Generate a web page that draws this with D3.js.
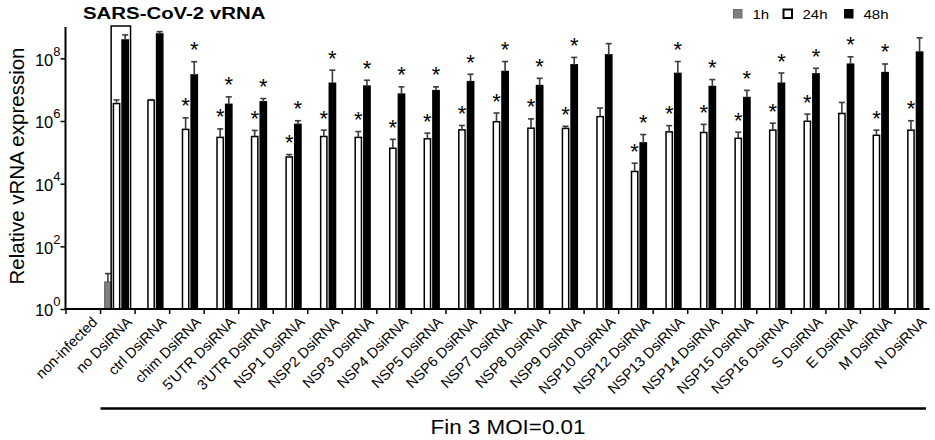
<!DOCTYPE html>
<html>
<head>
<meta charset="utf-8">
<script src="https://cdn.jsdelivr.net/npm/d3@7"></script>
<style>
body { margin: 0; background: #fff; }
text { font-family: "Liberation Sans", Arial, sans-serif; fill: #000; }
</style>
</head>
<body>
<div id="chart"></div>
<script>
var categories = ["non-infected", "no DsiRNA", "ctrl DsiRNA", "chim DsiRNA", "5'UTR DsiRNA", "3'UTR DsiRNA",
    "NSP1 DsiRNA", "NSP2 DsiRNA", "NSP3 DsiRNA", "NSP4 DsiRNA", "NSP5 DsiRNA", "NSP6 DsiRNA", "NSP7 DsiRNA",
    "NSP8 DsiRNA", "NSP9 DsiRNA", "NSP10 DsiRNA", "NSP12 DsiRNA", "NSP13 DsiRNA", "NSP14 DsiRNA",
    "NSP15 DsiRNA", "NSP16 DsiRNA", "S DsiRNA", "E DsiRNA", "M DsiRNA", "N DsiRNA"]
var seriesNames = ["1h", "24h", "48h"]

// mean and mean+SD
var mean1h  = [null, 7.2, null, null, null, null, null, null, null, null, null, null, null,
    null, null, null, null, null, null, null, null, null, null, null, null]
var upper1h = [null, 13.5, null, null, null, null, null, null, null, null, null, null, null,
    null, null, null, null, null, null, null, null, null, null, null, null]
var mean24h  = [null, 3.6e6, 4.6e6, 5.4e5, 3.0e5, 3.2e5, 7.1e4, 3.2e5, 3.0e5, 1.35e5, 2.7e5, 5.2e5, 9.5e5,
    5.9e5, 5.8e5, 1.38e6, 2.45e4, 4.5e5, 4.3e5, 2.8e5, 5.1e5, 9.8e5, 1.74e6, 3.5e5, 5.1e5]
var upper24h = [null, 4.7e6, 4.8e6, 1.26e6, 5.6e5, 5.0e5, 8.5e4, 5.1e5, 4.6e5, 2.6e5, 4.1e5, 7.2e5, 1.8e6,
    1.17e6, 6.8e5, 2.6e6, 4.5e4, 7.1e5, 7.8e5, 4.4e5, 8.5e5, 1.66e6, 3.9e6, 5.1e5, 1.02e6]
var mean48h  = [null, 3.85e8, 6.0e8, 2.95e7, 3.4e6, 4.1e6, 7.8e5, 1.6e7, 1.3e7, 7.2e6, 9.3e6, 1.8e7, 3.8e7,
    1.35e7, 6.2e7, 1.29e8, 2.0e5, 3.3e7, 1.26e7, 5.6e6, 1.6e7, 3.2e7, 6.5e7, 3.5e7, 1.58e8]
var upper48h = [null, 5.6e8, 7.1e8, 7.8e7, 5.9e6, 5.2e6, 1.02e6, 4.2e7, 2.0e7, 1.23e7, 1.23e7, 3.1e7, 7.9e7,
    2.3e7, 1.07e8, 2.95e8, 3.7e5, 7.9e7, 2.1e7, 9.5e6, 3.4e7, 4.8e7, 1.12e8, 6.6e7, 4.5e8]
// significance stars (1 = "*")
var sig1h  = [0, 0, 0, 0, 0, 0, 0, 0, 0, 0, 0, 0, 0, 0, 0, 0, 0, 0, 0, 0, 0, 0, 0, 0, 0]
var sig24h = [0, 0, 0, 1, 1, 1, 1, 1, 1, 1, 1, 1, 1, 1, 1, 0, 1, 1, 1, 1, 1, 1, 0, 1, 1]
var sig48h = [0, 0, 0, 1, 1, 1, 1, 1, 1, 1, 1, 1, 1, 1, 1, 0, 1, 1, 1, 1, 1, 1, 1, 1, 0]
var yTicks = [1, 1e2, 1e4, 1e6, 1e8]
var framedCategory = "no DsiRNA"
var titleText = "SARS-CoV-2 vRNA"
var yTitle = "Relative vRNA expression"
var groupText = "Fin 3 MOI=0.01"

var width = 935
var height = 440

function buildRows() {
    let means = [mean1h, mean24h, mean48h]
    let uppers = [upper1h, upper24h, upper48h]
    let sigs = [sig1h, sig24h, sig48h]
    let rows = []
    categories.map((cat, i) => {
        seriesNames.map((s, j) => {
            if (means[j][i] === null) return
            rows.push({cat: cat, series: s, mean: means[j][i], upper: uppers[j][i], sig: sigs[j][i] === 1})
        })
    })
    return rows
}

function createChart() {
    const rows = buildRows()

    const svg = d3.select("#chart")
        .append("svg")
        .attr("width", width)
        .attr("height", height)
        .attr("viewBox", [0, 0, width, height])

    const x = d3.scaleBand(categories, [66, 929.5]).paddingInner(0).paddingOuter(0)
    const x1 = d3.scaleBand(seriesNames, [3.5, 28.5]).paddingInner(0.1)
    const y = d3.scaleLog([1, 1e9], [309, 27])
    const bw = x1.bandwidth()

    const fills = {"1h": "#808080", "24h": "#fff", "48h": "#000"}
    const strokes = {"1h": "#6e6e6e", "24h": "#000", "48h": "#000"}

    // bars
    svg.append("g")
        .selectAll("rect")
        .data(rows)
        .join("rect")
            .attr("x", d => x(d.cat) + x1(d.series) + 0.75)
            .attr("y", d => y(d.mean))
            .attr("width", bw - 1.5)
            .attr("height", d => y(1) - y(d.mean))
            .attr("fill", d => fills[d.series])
            .attr("stroke", d => strokes[d.series])
            .attr("stroke-width", 1.5)

    // error bars (upper only)
    const err = svg.append("g")
        .attr("stroke", "#3c3c3c")
        .attr("stroke-width", 1.6)
        .selectAll("g")
        .data(rows)
        .join("g")
    err.append("line")
        .attr("x1", d => x(d.cat) + x1(d.series) + bw / 2)
        .attr("x2", d => x(d.cat) + x1(d.series) + bw / 2)
        .attr("y1", d => y(d.mean))
        .attr("y2", d => y(d.upper))
    err.append("line")
        .attr("x1", d => x(d.cat) + x1(d.series) + bw / 2 - 3)
        .attr("x2", d => x(d.cat) + x1(d.series) + bw / 2 + 3)
        .attr("y1", d => y(d.upper))
        .attr("y2", d => y(d.upper))

    // stars
    svg.append("g")
        .selectAll("text")
        .data(rows.filter(d => d.sig))
        .join("text")
            .attr("x", d => x(d.cat) + x1(d.series) + bw / 2)
            .attr("y", d => y(d.upper) - 4.5)
            .attr("text-anchor", "middle")
            .attr("font-size", "22px")
            .text("*")

    // frame around the reference group
    svg.append("rect")
        .attr("x", x(framedCategory) + x1("24h") - 1.5)
        .attr("y", 26)
        .attr("width", x1("48h") + bw - x1("24h") + 3)
        .attr("height", y(1) - 26)
        .attr("fill", "none")
        .attr("stroke", "#000")
        .attr("stroke-width", 1.5)

    // y axis
    const yAxis = d3.axisLeft(y).tickValues(yTicks).tickSize(5).tickPadding(0)
    const yg = svg.append("g")
        .attr("transform", "translate(65.5,0)")
        .call(yAxis)
    yg.select(".domain").attr("d", "M0,27V309").attr("stroke-width", 2)
    yg.selectAll(".tick line").attr("stroke-width", 1.5)
    yg.selectAll(".tick text").each(function(d) {
        const t = d3.select(this)
        t.text(null).attr("font-size", "16.5px").attr("dy", "0.42em").attr("fill", "#000")
        t.append("tspan").text("10")
        t.append("tspan").attr("dy", -10).attr("font-size", "13px").text(Math.round(Math.log10(d)))
    })

    // x axis with ticks at band edges
    const xg = svg.append("g")
    xg.append("line")
        .attr("x1", 65).attr("x2", 929.5)
        .attr("y1", 309).attr("y2", 309)
        .attr("stroke", "#000").attr("stroke-width", 2)
    xg.selectAll(".edge")
        .data(categories)
        .join("line")
            .attr("class", "edge")
            .attr("x1", d => x(d)).attr("x2", d => x(d))
            .attr("y1", 309).attr("y2", 314)
            .attr("stroke", "#000").attr("stroke-width", 1.5)
    xg.selectAll("text")
        .data(categories)
        .join("text")
            .attr("transform", d => "translate(" + (x(d) + x.bandwidth() / 2 + 15) + ",323) rotate(-45)")
            .attr("text-anchor", "end")
            .attr("font-size", "14.5px")
            .text(d => d)

    // axis title
    svg.append("text")
        .attr("transform", "translate(24,166) rotate(-90)")
        .attr("text-anchor", "middle")
        .attr("font-size", "20.5px")
        .text(yTitle)

    // chart title
    svg.append("text")
        .attr("transform", "translate(83,18.5) scale(1.2,1)")
        .attr("font-size", "17px")
        .attr("font-weight", "bold")
        .text(titleText)

    // legend
    const legendX = d3.scaleOrdinal(seriesNames, [733.5, 783.5, 844.5])
    const legend = svg.append("g")
        .selectAll("g")
        .data(seriesNames)
        .join("g")
            .attr("transform", d => "translate(" + legendX(d) + ",9.5)")
    legend.append("rect")
        .attr("width", 8.5).attr("height", 8.5)
        .attr("fill", d => fills[d])
        .attr("stroke", d => strokes[d])
        .attr("stroke-width", d => d === "24h" ? 2 : 1)
    legend.append("text")
        .attr("transform", "translate(19,9.3) scale(1.2,1)")
        .attr("font-size", "12.5px")
        .text(d => d)

    // group bracket and label
    svg.append("line")
        .attr("x1", x("no DsiRNA")).attr("x2", 926)
        .attr("y1", 408.5).attr("y2", 408.5)
        .attr("stroke", "#000").attr("stroke-width", 2.5)
    svg.append("text")
        .attr("transform", "translate(508,434.3) scale(1.12,1)")
        .attr("text-anchor", "middle")
        .attr("font-size", "20px")
        .text(groupText)

    return svg.node()
}

createChart()
</script>
</body>
</html>
